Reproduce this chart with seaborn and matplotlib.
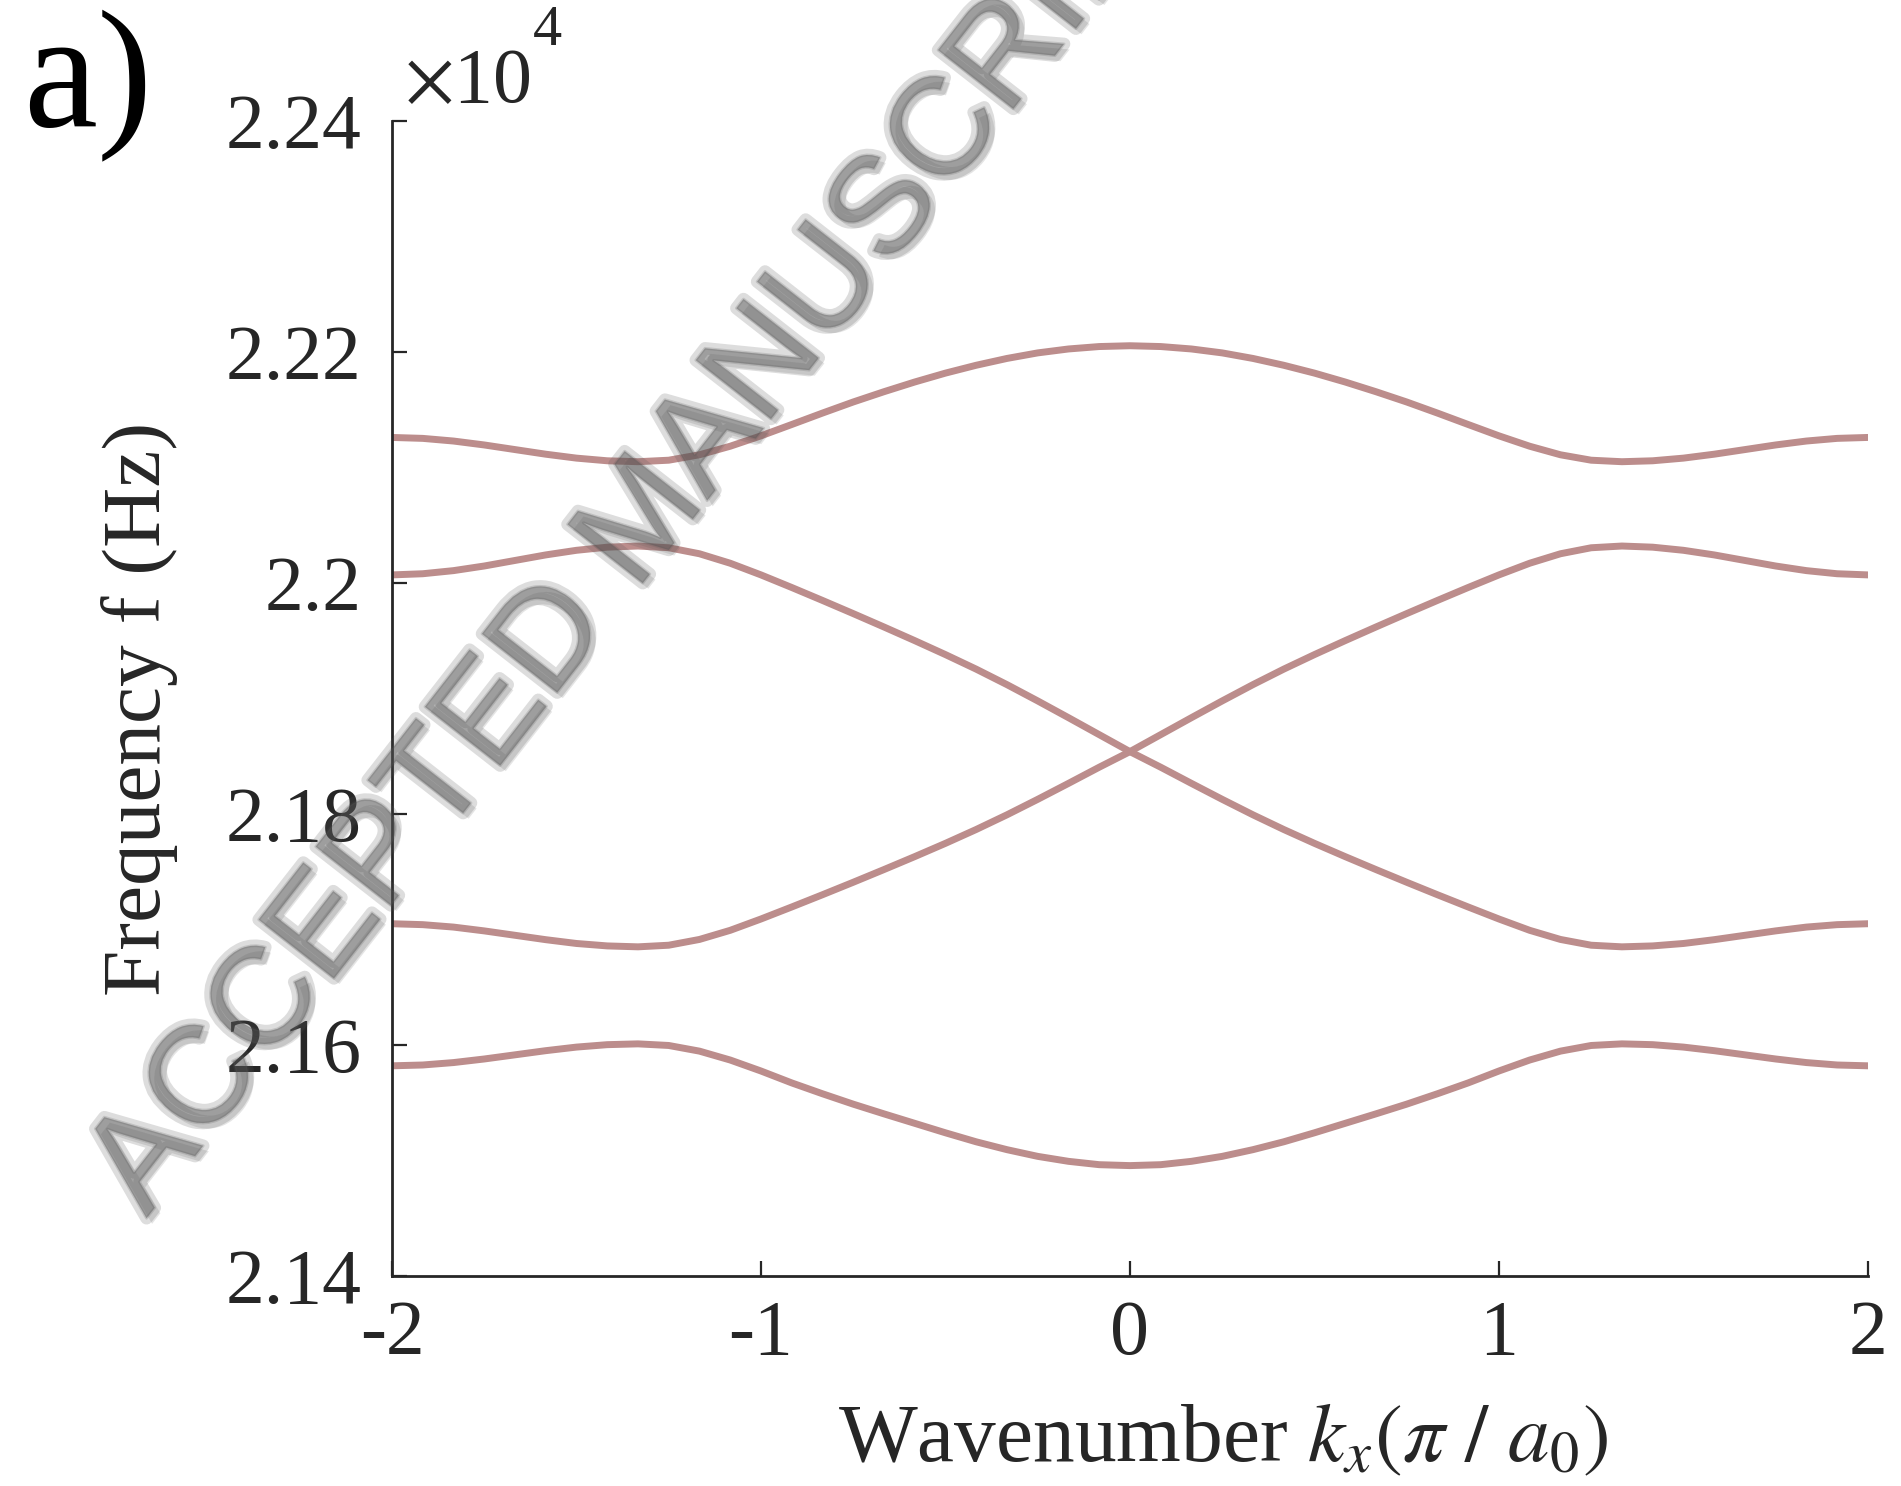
import numpy as np
import pandas as pd
import seaborn as sns
import matplotlib.pyplot as plt
from matplotlib.ticker import FuncFormatter
import matplotlib.patheffects as pe

# ---------------- data (frequency in units of 1e4 Hz), k step = 1/12 ----------------
k = np.linspace(-2.0, 2.0, 49)

band1 = [2.21260, 2.21252, 2.21229, 2.21195, 2.21155, 2.21115, 2.21081, 2.21058, 2.21050,
         2.21063, 2.21110, 2.21184, 2.21274, 2.21372, 2.21471, 2.21567, 2.21656,
         2.21740, 2.21817, 2.21885, 2.21944, 2.21992, 2.22026, 2.22047, 2.22054,
         2.22047, 2.22026, 2.21992, 2.21944, 2.21885, 2.21817, 2.21740, 2.21656,
         2.21567, 2.21471, 2.21372, 2.21274, 2.21184, 2.21110, 2.21063, 2.21050,
         2.21058, 2.21081, 2.21115, 2.21155, 2.21195, 2.21229, 2.21252, 2.21260]

band2 = [2.20070, 2.20080, 2.20107, 2.20147, 2.20195, 2.20243, 2.20283, 2.20310, 2.20320,
         2.20305, 2.20253, 2.20171, 2.20070, 2.19961, 2.19849, 2.19735, 2.19619,
         2.19501, 2.19380, 2.19254, 2.19120, 2.18979, 2.18834, 2.18687, 2.18540,
         2.18405, 2.18265, 2.18127, 2.17993, 2.17866, 2.17746, 2.17631, 2.17519,
         2.17409, 2.17301, 2.17195, 2.17091, 2.16993, 2.16914, 2.16864, 2.16850,
         2.16858, 2.16879, 2.16912, 2.16950, 2.16988, 2.17021, 2.17042, 2.17050]

band3 = [2.17050, 2.17042, 2.17021, 2.16988, 2.16950, 2.16912, 2.16879, 2.16858, 2.16850,
         2.16864, 2.16914, 2.16993, 2.17091, 2.17195, 2.17301, 2.17409, 2.17519,
         2.17631, 2.17746, 2.17866, 2.17993, 2.18127, 2.18265, 2.18405, 2.18540,
         2.18687, 2.18834, 2.18979, 2.19120, 2.19254, 2.19380, 2.19501, 2.19619,
         2.19735, 2.19849, 2.19961, 2.20070, 2.20171, 2.20253, 2.20305, 2.20320,
         2.20310, 2.20283, 2.20243, 2.20195, 2.20147, 2.20107, 2.20080, 2.20070]

band4 = [2.15820, 2.15827, 2.15848, 2.15879, 2.15915, 2.15951, 2.15982, 2.16003, 2.16010,
         2.15996, 2.15947, 2.15870, 2.15775, 2.15672, 2.15578, 2.15488, 2.15404,
         2.15322, 2.15240, 2.15162, 2.15094, 2.15036, 2.14993, 2.14964, 2.14956,
         2.14964, 2.14993, 2.15036, 2.15094, 2.15162, 2.15240, 2.15322, 2.15404,
         2.15488, 2.15578, 2.15672, 2.15775, 2.15870, 2.15947, 2.15996, 2.16010,
         2.16003, 2.15982, 2.15951, 2.15915, 2.15879, 2.15848, 2.15827, 2.15820]

x_ticks = [-2, -1, 0, 1, 2]
y_ticks = [2.14, 2.16, 2.18, 2.20, 2.22, 2.24]

frames = []
for name, vals in [("b1", band1), ("b2", band2), ("b3", band3), ("b4", band4)]:
    frames.append(pd.DataFrame({"k": k, "f": np.array(vals) * 1e4, "band": name}))
df = pd.concat(frames, ignore_index=True)

# ---------------- style ----------------
sns.set_theme(style="ticks")
plt.rcParams['font.family'] = ['Liberation Serif', 'DejaVu Serif']
plt.rcParams['mathtext.fontset'] = 'stix'
TXT = '#262626'

fig = plt.figure(figsize=(19.01, 14.86), dpi=100)
ax = fig.add_axes([0.2062, 0.1413, 0.7764, 0.7773])

sns.lineplot(data=df, x="k", y="f", units="band", estimator=None,
             color="#bc8d8c", linewidth=5.0, ax=ax, sort=False, zorder=2)

ax.set_xlim(-2, 2)
ax.set_ylim(21400, 22400)
ax.set_xticks(x_ticks)
ax.set_yticks([v * 1e4 for v in y_ticks])
ax.xaxis.set_major_formatter(FuncFormatter(lambda v, p: f"{int(round(v))}"))
ax.yaxis.set_major_formatter(FuncFormatter(lambda v, p: f"{v / 1e4:g}"))

for s in ["top", "right"]:
    ax.spines[s].set_visible(False)
for s in ["left", "bottom"]:
    ax.spines[s].set_linewidth(2.0)
    ax.spines[s].set_color(TXT)
ax.tick_params(axis='both', direction='in', length=11, width=1.6, color=TXT,
               labelsize=56, labelcolor=TXT)
ax.tick_params(axis='y', pad=22)
ax.tick_params(axis='x', pad=17)

ax.set_xlabel(r"Wavenumber $k_x(\pi\ /\ a_0)$", fontsize=60, color=TXT)
ax.set_ylabel("Frequency f (Hz)", fontsize=60, color=TXT)
ax.xaxis.set_label_coords(0.563, -0.11)
ax.yaxis.set_label_coords(-0.145, 0.491)

# exponent label (x10^4)
mult = fig.text(0.2125, 0.931, r"$\times$10", fontsize=56, color=TXT,
                ha='left', va='baseline')
fig.canvas.draw()
bb = mult.get_window_extent(renderer=fig.canvas.get_renderer())
fig.text((bb.x1 + 2) / fig.bbox.width, 0.970, "4", fontsize=42, color=TXT,
         ha='left', va='baseline')

fig.text(0.012, 0.915, "a)", fontsize=120, color='black', ha='left', va='baseline')

# watermark
wm = fig.text(0.077, 0.18, "ACCEPTED MANUSCRIPT", fontsize=100,
              family='Liberation Sans', color='#555555', alpha=0.15,
              rotation=52, rotation_mode='anchor', ha='left', va='baseline',
              zorder=10)
wm.set_path_effects([
    pe.SimplePatchShadow(offset=(4, -4), shadow_rgbFace='#444444', alpha=0.14),
    pe.Stroke(linewidth=9, foreground='#555555', alpha=0.2),
    pe.Stroke(linewidth=2, foreground='#555555', alpha=0.2),
    pe.Normal()])

fig.savefig("out.png", dpi=100)
